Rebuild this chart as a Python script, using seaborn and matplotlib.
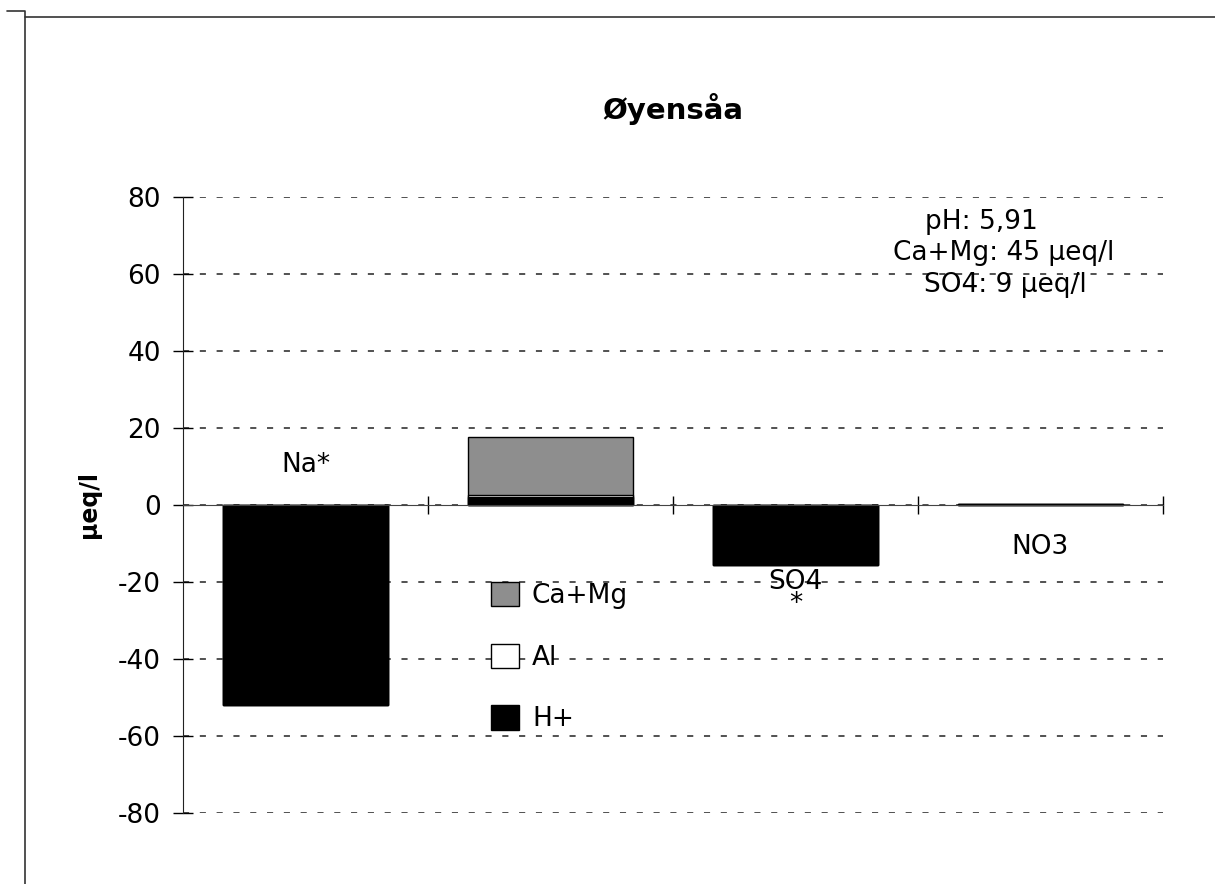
import pandas as pd
import matplotlib.pyplot as plt
import seaborn as sns
from matplotlib.patches import Patch
from matplotlib.lines import Line2D

# Values (µeq/l)
categories = ['Na*', 'Kationer', 'SO4*', 'NO3']
h_plus = [-52.0, 2.0, -15.6, 0.3]
al = [0.0, 0.5, 0.0, 0.0]
ca_mg = [0.0, 15.2, 0.0, 0.0]

bar_labels = ['Na*', '', 'SO4\n*', 'NO3']
label_y = [10.4, 0, -22.8, -11.0]

info_lines = ['pH: 5,91', 'Ca+Mg: 45 µeq/l', 'SO4: 9 µeq/l']
yticks = [-80, -60, -40, -20, 0, 20, 40, 60, 80]

sns.set_style('white')
plt.rcParams['font.family'] = ['DejaVu Sans']
plt.rcParams['axes.unicode_minus'] = False
plt.rcParams['text.color'] = 'black'
plt.rcParams['ytick.color'] = 'black'
plt.rcParams['axes.labelcolor'] = 'black'
FS = 19

W, H = 1215, 884
fig = plt.figure(figsize=(W / 100, H / 100), dpi=100)
ax = fig.add_axes([183 / W, 1 - 813 / H, (1163 - 183) / W, (813 - 197) / H])

# stacked bars drawn top layer first, then over-painted
df = pd.DataFrame({'cat': categories, 'h': h_plus, 'al': al, 'camg': ca_mg})
df['tot'] = df['h'] + df['al'] + df['camg']
df['h_al'] = df['h'] + df['al']

for col, colr in [('tot', '#8e8e8e'), ('h_al', 'white'), ('h', 'black')]:
    sns.barplot(data=df, x='cat', y=col, order=categories, color=colr,
                saturation=1, width=0.67, edgecolor='black', linewidth=1,
                errorbar=None, ax=ax)

ax.set_ylim(-80, 80)
ax.set_xlim(-0.5, 3.5)
ax.set_yticks(yticks)
ax.set_xticks([0.5, 1.5, 2.5, 3.5])
ax.set_xticklabels([])
ax.tick_params(axis='y', direction='inout', length=14, width=1, pad=9,
               labelsize=FS, left=True, color='black', labelcolor='black')
ax.tick_params(axis='x', direction='inout', length=13, width=1, bottom=True,
               color='black')

for s in ['top', 'right']:
    ax.spines[s].set_visible(False)
ax.spines['bottom'].set_position(('data', 0))
ax.spines['bottom'].set_color('#444444')
ax.spines['left'].set_color('#222222')
ax.spines['bottom'].set_zorder(5)

ax.yaxis.grid(True, color='#222222', linewidth=1.1, linestyle=(0, (4, 7)))
ax.xaxis.grid(False)
ax.set_axisbelow(True)

ax.set_xlabel('')
ax.set_ylabel('µeq/l', fontsize=FS - 2, fontweight='bold', labelpad=12)
ax.set_title('Øyensåa', fontsize=FS + 2, fontweight='bold', pad=56)

for i, (lab, yy) in enumerate(zip(bar_labels, label_y)):
    if lab:
        ax.text(i, yy, lab, ha='center', va='center', fontsize=FS,
                linespacing=0.8)

for txt, xp, yp in zip(info_lines, [981, 1004, 1005], [222, 253, 285]):
    fig.text(xp / W, 1 - yp / H, txt, ha='center', va='center', fontsize=FS)

handles = [Patch(facecolor='#8e8e8e', edgecolor='black', label='Ca+Mg'),
           Patch(facecolor='white', edgecolor='black', label='Al'),
           Patch(facecolor='black', edgecolor='black', label='H+')]
ax.legend(handles=handles, loc='upper left', frameon=False,
          bbox_to_anchor=(491 / W, 1 - 582 / H), bbox_transform=fig.transFigure,
          fontsize=FS, handlelength=1.05, handleheight=1.05, labelspacing=1.3,
          handletextpad=0.5, borderpad=0, borderaxespad=0)

# page frame lines from the scan
fig.add_artist(Line2D([7 / W, 25 / W, 25 / W], [1 - 11 / H, 1 - 11 / H, 0],
                      color='#333333', linewidth=1.2))
fig.add_artist(Line2D([25 / W, 1], [1 - 17 / H, 1 - 17 / H],
                      color='#333333', linewidth=1.2))

fig.savefig('out.png', dpi=100)
